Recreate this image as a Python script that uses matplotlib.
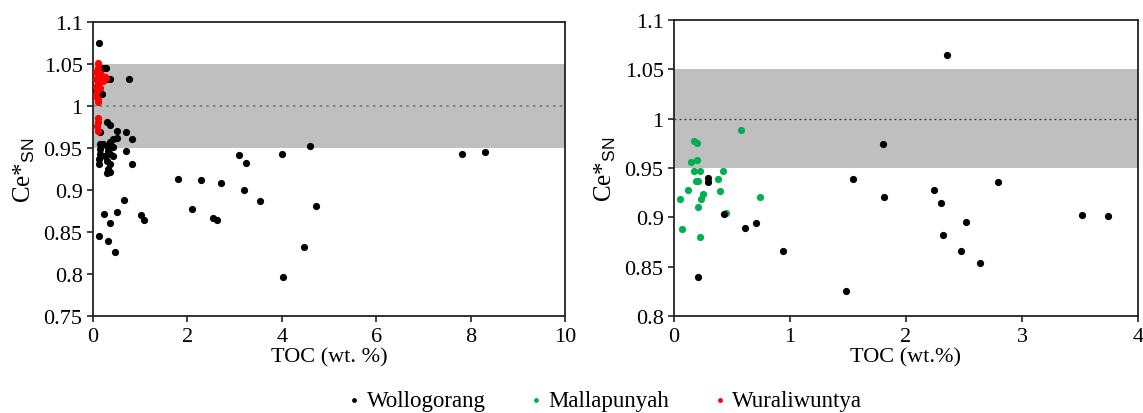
import matplotlib
matplotlib.use('Agg')
import matplotlib.pyplot as plt
from matplotlib.ticker import FuncFormatter

plt.rcParams['font.family'] = ['Liberation Serif', 'DejaVu Serif']
plt.rcParams['mathtext.fontset'] = 'custom'
plt.rcParams['mathtext.rm'] = 'Liberation Serif'
plt.rcParams['mathtext.sf'] = 'Liberation Sans'

# left panel: Wollogorang (black)
woll_left_toc = [0.13, 0.22, 0.28, 0.36, 0.77, 0.0, 0.18, 0.10, 0.28,
                 0.29, 0.35, 0.15, 0.50, 0.69, 0.83,
                 0.15, 0.15, 0.15, 0.12, 0.13, 0.22, 0.29, 0.36, 0.43, 0.50,
                 0.43, 0.32, 0.25, 0.36, 0.43, 0.29, 0.36, 0.32, 0.29, 0.35,
                 0.70, 0.83, 0.66, 0.24, 0.50, 0.36, 1.01, 1.08, 0.13, 0.32, 0.47,
                 1.81, 2.28, 2.72, 2.10, 2.54, 2.63, 3.09, 3.24, 3.19, 3.54,
                 4.01, 4.60, 4.72, 4.48, 4.02, 7.82, 8.31]
woll_left_ce = [1.075, 1.046, 1.046, 1.032, 1.032, 1.022, 1.014, 1.030, 1.032,
                0.981, 0.977, 0.969, 0.971, 0.969, 0.961,
                0.955, 0.949, 0.943, 0.937, 0.931, 0.955, 0.953, 0.957, 0.961, 0.962,
                0.951, 0.947, 0.941, 0.943, 0.941, 0.935, 0.931, 0.925, 0.921, 0.922,
                0.947, 0.931, 0.888, 0.872, 0.874, 0.861, 0.870, 0.864, 0.846, 0.840, 0.826,
                0.913, 0.912, 0.908, 0.878, 0.867, 0.865, 0.942, 0.932, 0.900, 0.887,
                0.943, 0.953, 0.881, 0.832, 0.796, 0.943, 0.946]

# left panel: Wuraliwuntya (red)
wura_toc = [0.11, 0.10, 0.07, 0.14, 0.18, 0.25, 0.07, 0.11, 0.18, 0.10, 0.06,
            0.14, 0.08, 0.06, 0.11, 0.10, 0.28, 0.21, 0.10, 0.11, 0.08, 0.10]
wura_ce = [1.051, 1.046, 1.041, 1.039, 1.036, 1.035, 1.032, 1.031, 1.032, 1.026, 1.023,
           1.022, 1.018, 1.012, 1.008, 1.005, 1.034, 1.030, 0.986, 0.981, 0.976, 0.971]

# right panel: Mallapunyah (green)
mall_toc = [0.58, 0.17, 0.20, 0.15, 0.20, 0.17, 0.22, 0.42, 0.19, 0.21, 0.38,
            0.12, 0.40, 0.05, 0.25, 0.23, 0.74, 0.21, 0.45, 0.07, 0.22]
mall_ce = [0.989, 0.977, 0.975, 0.956, 0.958, 0.947, 0.947, 0.947, 0.937, 0.937, 0.939,
           0.928, 0.927, 0.919, 0.924, 0.919, 0.921, 0.911, 0.905, 0.888, 0.880]

# right panel: Wollogorang (black)
woll_right_toc = [0.29, 0.29, 0.43, 0.61, 0.71, 0.94, 0.21, 1.48, 1.54, 1.80, 1.81,
                  2.24, 2.30, 2.32, 2.52, 2.47, 2.64, 2.79, 3.52, 3.74, 2.35]
woll_right_ce = [0.940, 0.936, 0.904, 0.889, 0.894, 0.866, 0.840, 0.825, 0.939, 0.974, 0.921,
                 0.928, 0.915, 0.882, 0.895, 0.866, 0.854, 0.936, 0.902, 0.901, 1.065]

left_yticks = [0.75, 0.8, 0.85, 0.9, 0.95, 1.0, 1.05, 1.1]
right_yticks = [0.8, 0.85, 0.9, 0.95, 1.0, 1.05, 1.1]

fig = plt.figure(figsize=(11.43, 4.14), dpi=100)
ax1 = fig.add_axes([0.0814, 0.234, 0.4129, 0.710])
ax2 = fig.add_axes([0.5897, 0.234, 0.4059, 0.715])

fmt = FuncFormatter(lambda v, p: f'{round(v, 2):g}')

for ax in (ax1, ax2):
    ax.axhspan(0.95, 1.05, color='#bfbfbf', lw=0, zorder=0)
    for s in ax.spines.values():
        s.set_linewidth(1.3)
        s.set_color('#222222')
    ax.tick_params(direction='out', length=4, width=1.2, labelsize=16, color='#222222')
    ax.yaxis.set_major_formatter(fmt)
    ax.set_ylabel(r'Ce*$_{\mathsf{SN}}$', fontsize=18, labelpad=5)

ax1.axhline(1.0, color='#777777', ls=(0, (1.5, 2.5)), lw=1.2, zorder=1)
ax2.axhline(1.0, color='#333333', ls=(0, (1.5, 2.5)), lw=0.9, zorder=1)

ax1.scatter(woll_left_toc, woll_left_ce, s=27, color='black', lw=0, zorder=3)
ax1.scatter(wura_toc, wura_ce, s=27, color='#ff0000', lw=0, zorder=4)
ax1.set_xlim(0, 10)
ax1.set_ylim(0.75, 1.1)
ax1.set_xticks([0, 2, 4, 6, 8, 10])
ax1.set_yticks(left_yticks)
ax1.set_xlabel('TOC (wt. %)', fontsize=16, labelpad=1)

ax2.scatter(mall_toc, mall_ce, s=27, color='#00b050', lw=0, zorder=3)
ax2.scatter(woll_right_toc, woll_right_ce, s=27, color='black', lw=0, zorder=4)
ax2.set_xlim(0, 4)
ax2.set_ylim(0.8, 1.1)
ax2.set_xticks([0, 1, 2, 3, 4])
ax2.set_yticks(right_yticks)
ax2.set_xlabel('TOC (wt.%)', fontsize=16, labelpad=1)

h1 = ax1.scatter([], [], s=12, color='black', lw=0)
h2 = ax1.scatter([], [], s=12, color='#00b050', lw=0)
h3 = ax1.scatter([], [], s=12, color='#ff0000', lw=0)
fig.legend([h1, h2, h3], ['Wollogorang', 'Mallapunyah', 'Wuraliwuntya'],
           loc='center', bbox_to_anchor=(0.529, 0.031), ncol=3, frameon=False,
           fontsize=16.5, handlelength=0.6, handletextpad=0.25, columnspacing=1.9,
           borderpad=0)

fig.savefig('out.png', dpi=100)
